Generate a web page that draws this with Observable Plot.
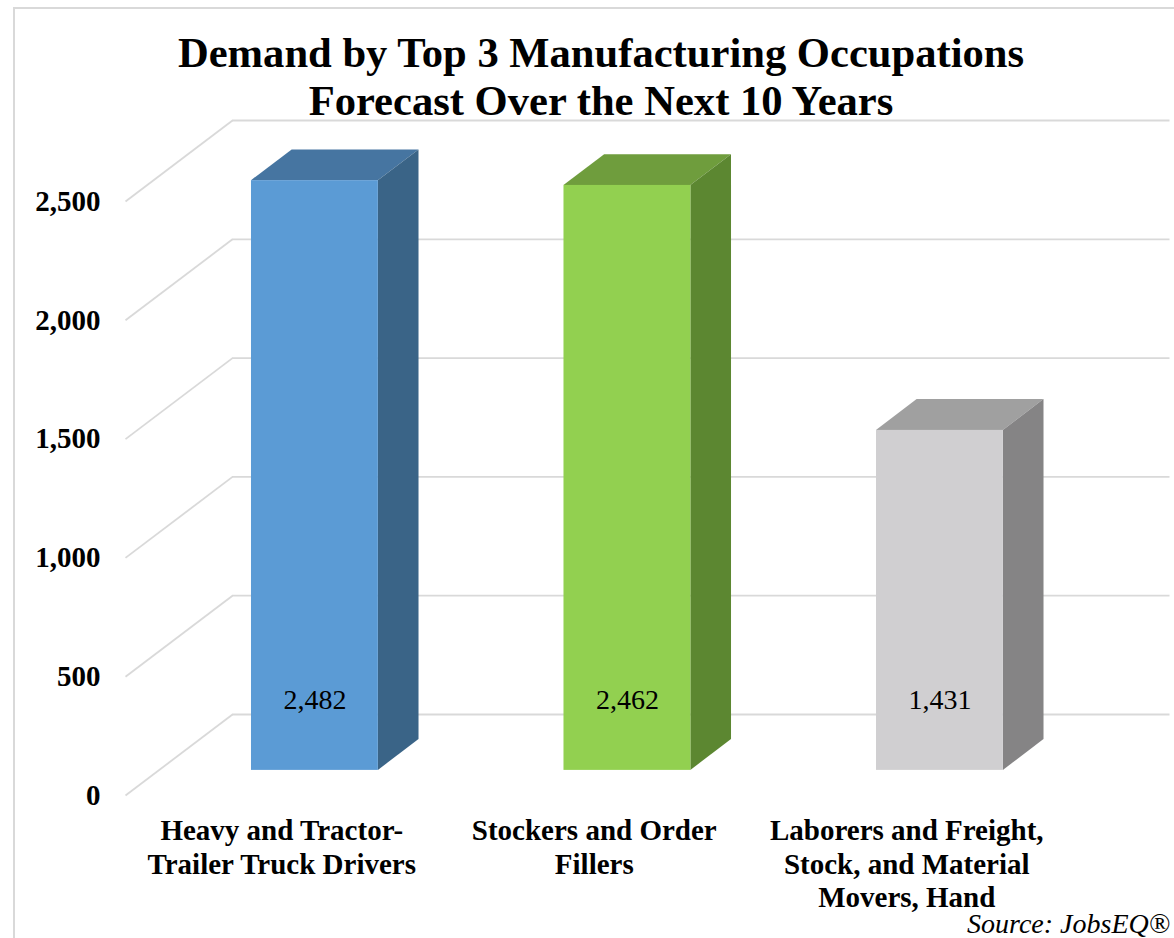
<!DOCTYPE html>
<html>
<head>
<meta charset="utf-8">
<script src="https://cdn.jsdelivr.net/npm/d3@7"></script>
<script src="https://cdn.jsdelivr.net/npm/@observablehq/plot@0.6"></script>
<style>
  body { margin: 0; background: #fff; }
  #wrap { position: relative; width: 1174px; height: 938px; overflow: hidden; background: #fff;
          font-family: "Liberation Serif", "Times New Roman", serif; color: #000; }
  #frame { position: absolute; left: 13px; top: 7px; width: 1300px; height: 1100px;
           border-left: 2px solid #d9d9d9; border-top: 2px solid #d9d9d9; }
  #chart { position: absolute; left: 0; top: 0; }
  #title { position: absolute; left: 14px; top: 29px; width: 1174px; text-align: center;
           font-weight: bold; font-size: 42.6px; line-height: 48px; }
  #source { position: absolute; right: 4px; top: 910px; font-style: italic; font-size: 28px; line-height: 28px; }
</style>
</head>
<body>
<div id="wrap">
  <div id="frame"></div>
  <div id="chart"></div>
  <div id="title">Demand by Top 3 Manufacturing Occupations<br>Forecast Over the Next 10 Years</div>
  <div id="source">Source: JobsEQ®</div>
</div>
<script>
// ---- data ----
const categories = [
  "Heavy and Tractor-\nTrailer Truck Drivers",
  "Stockers and Order\nFillers",
  "Laborers and Freight,\nStock, and Material\nMovers, Hand"
];
const values = [2482, 2462, 1431];
const valueLabels = ["2,482", "2,462", "1,431"];
const yTicks = [0, 500, 1000, 1500, 2000, 2500];
const frontColors = ["#5B9BD5", "#92D050", "#D0CFD1"];
const sideColors  = ["#3A6487", "#5C8731", "#858485"];
const topColors   = ["#4675A1", "#6F9D3D", "#A0A0A0"];

// ---- oblique projection (depth z from 0 = front wall to 1 = back wall) ----
const DX = 0.3424;  // x-units shift per unit depth
const DY = 340.9;   // y-units shift per unit depth
const zf = 0.31, zb = 0.69, hw = 0.203;

const frontFaces = values.map((v, i) => ({i, x1: i - hw + DX * zf, x2: i + hw + DX * zf, y1: DY * zf, y2: v + DY * zf}));
const sideFaces = values.flatMap((v, i) => [
  {i, x: i + hw + DX * zf, y1: DY * zf, y2: v + DY * zf},
  {i, x: i + hw + DX * zb, y1: DY * zb, y2: v + DY * zb}
]);
const topFaces = values.flatMap((v, i) => [
  {i, y: v + DY * zf, x1: i - hw + DX * zf, x2: i + hw + DX * zf},
  {i, y: v + DY * zb, x1: i - hw + DX * zb, x2: i + hw + DX * zb}
]);

const grid = "#d9d9d9";

const chart = Plot.plot({
  width: 1174,
  height: 938,
  marginLeft: 125,
  marginRight: 111.5,
  marginTop: 201,
  marginBottom: 143,
  x: {domain: [-0.5, 2.5], axis: null},
  y: {domain: [0, 2500], axis: null},
  color: {type: "identity"},
  style: {fontFamily: "'Liberation Serif', 'Times New Roman', serif", background: "transparent", overflow: "visible", color: "#000"},
  marks: [
    // back wall gridlines
    Plot.ruleY(yTicks, {y: d => d + DY, x1: -0.5 + DX, x2: 2.5 + DX, stroke: grid, strokeWidth: 1.8}),
    // side wall gridlines
    Plot.link(yTicks, {x1: -0.5, y1: d => d, x2: -0.5 + DX, y2: d => d + DY, stroke: grid, strokeWidth: 1.8}),
    // bar top faces
    Plot.areaX(topFaces, {y: "y", x1: "x1", x2: "x2", z: "i", fill: d => topColors[d.i]}),
    // bar side faces
    Plot.areaY(sideFaces, {x: "x", y1: "y1", y2: "y2", z: "i", fill: d => sideColors[d.i]}),
    // bar front faces
    Plot.rect(frontFaces, {x1: "x1", x2: "x2", y1: "y1", y2: "y2", fill: d => frontColors[d.i]}),
    // value labels
    Plot.text(frontFaces, {x: d => (d.x1 + d.x2) / 2, y: "y1", text: d => valueLabels[d.i], dy: -70, fontSize: 28, fill: "#000"}),
    // y axis
    Plot.axisY({ticks: yTicks, tickSize: 0, tickPadding: 25, tickFormat: d3.format(","), fontSize: 29, fontWeight: "bold", fill: "#000"}),
    // category labels
    Plot.text(categories, {x: (d, i) => i, y: 0, text: d => d, dy: 21, lineAnchor: "top", lineHeight: 1.155, fontSize: 29, fontWeight: "bold", fill: "#000"})
  ]
});
document.getElementById("chart").appendChild(chart);
</script>
</body>
</html>
